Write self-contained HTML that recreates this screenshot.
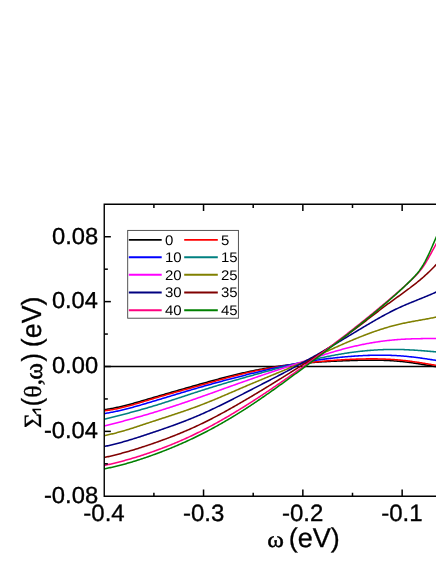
<!DOCTYPE html>
<html><head><meta charset="utf-8"><title>chart</title>
<style>html,body{margin:0;padding:0;background:#fff;width:436px;height:564px;overflow:hidden}
body{position:relative;font-family:"Liberation Sans",sans-serif}</style></head>
<body>
<svg width="436" height="564" viewBox="0 0 436 564" text-rendering="geometricPrecision" style="position:absolute;left:0;top:0;will-change:transform">
<rect width="436" height="564" fill="#fff"/>
<clipPath id="c"><rect x="104.25" y="204.3" width="340" height="292.0"/></clipPath>
<g clip-path="url(#c)" fill="none" stroke-width="1.55" stroke-linejoin="round">
<path d="M104.25,366.5 H440" stroke="#000" stroke-width="1.4"/>
<path d="M104.2,409.73 L105.2,409.59 L106.2,409.44 L107.2,409.28 L108.2,409.11 L109.2,408.94 L110.2,408.77 L111.2,408.58 L112.2,408.40 L113.2,408.20 L114.2,408.00 L115.2,407.80 L116.2,407.59 L117.2,407.37 L118.2,407.15 L119.2,406.93 L120.2,406.70 L121.2,406.46 L122.2,406.23 L123.2,405.98 L124.2,405.74 L125.2,405.49 L126.2,405.24 L127.2,404.98 L128.2,404.72 L129.2,404.46 L130.2,404.19 L131.2,403.92 L132.2,403.65 L133.2,403.38 L134.2,403.10 L135.2,402.82 L136.2,402.54 L137.2,402.26 L138.2,401.97 L139.2,401.69 L140.2,401.40 L141.2,401.11 L142.2,400.82 L143.2,400.53 L144.2,400.24 L145.2,399.94 L146.2,399.65 L147.2,399.36 L148.2,399.06 L149.2,398.77 L150.2,398.48 L151.2,398.18 L152.2,397.89 L153.2,397.60 L154.2,397.30 L155.2,397.01 L156.2,396.72 L157.2,396.43 L158.2,396.13 L159.2,395.84 L160.2,395.55 L161.2,395.26 L162.2,394.97 L163.2,394.68 L164.2,394.39 L165.2,394.10 L166.2,393.81 L167.2,393.52 L168.2,393.23 L169.2,392.94 L170.2,392.65 L171.2,392.36 L172.2,392.07 L173.2,391.78 L174.2,391.49 L175.2,391.20 L176.2,390.92 L177.2,390.63 L178.2,390.34 L179.2,390.05 L180.2,389.77 L181.2,389.48 L182.2,389.20 L183.2,388.91 L184.2,388.62 L185.2,388.34 L186.2,388.05 L187.2,387.77 L188.2,387.48 L189.2,387.20 L190.2,386.91 L191.2,386.63 L192.2,386.35 L193.2,386.06 L194.2,385.78 L195.2,385.50 L196.2,385.22 L197.2,384.93 L198.2,384.65 L199.2,384.37 L200.2,384.09 L201.2,383.81 L202.2,383.53 L203.2,383.25 L204.2,382.97 L205.2,382.69 L206.2,382.41 L207.2,382.13 L208.2,381.86 L209.2,381.58 L210.2,381.30 L211.2,381.03 L212.2,380.75 L213.2,380.48 L214.2,380.21 L215.2,379.94 L216.2,379.66 L217.2,379.39 L218.2,379.13 L219.2,378.86 L220.2,378.59 L221.2,378.33 L222.2,378.06 L223.2,377.80 L224.2,377.54 L225.2,377.28 L226.2,377.02 L227.2,376.76 L228.2,376.50 L229.2,376.25 L230.2,376.00 L231.2,375.74 L232.2,375.49 L233.2,375.25 L234.2,375.00 L235.2,374.76 L236.2,374.51 L237.2,374.27 L238.2,374.03 L239.2,373.80 L240.2,373.56 L241.2,373.33 L242.2,373.10 L243.2,372.87 L244.2,372.64 L245.2,372.42 L246.2,372.19 L247.2,371.97 L248.2,371.76 L249.2,371.54 L250.2,371.33 L251.2,371.12 L252.2,370.91 L253.2,370.70 L254.2,370.50 L255.2,370.30 L256.2,370.10 L257.2,369.90 L258.2,369.71 L259.2,369.52 L260.2,369.33 L261.2,369.14 L262.2,368.96 L263.2,368.78 L264.2,368.60 L265.2,368.42 L266.2,368.25 L267.2,368.07 L268.2,367.90 L269.2,367.74 L270.2,367.57 L271.2,367.41 L272.2,367.25 L273.2,367.09 L274.2,366.93 L275.2,366.78 L276.2,366.62 L277.2,366.47 L278.2,366.33 L279.2,366.18 L280.2,366.04 L281.2,365.90 L282.2,365.76 L283.2,365.62 L284.2,365.48 L285.2,365.35 L286.2,365.22 L287.2,365.09 L288.2,364.97 L289.2,364.84 L290.2,364.72 L291.2,364.60 L292.2,364.48 L293.2,364.37 L294.2,364.25 L295.2,364.14 L296.2,364.03 L297.2,363.93 L298.2,363.82 L299.2,363.72 L300.2,363.62 L301.2,363.52 L302.2,363.42 L303.2,363.33 L304.2,363.23 L305.2,363.14 L306.2,363.05 L307.2,362.96 L308.2,362.88 L309.2,362.79 L310.2,362.71 L311.2,362.63 L312.2,362.55 L313.2,362.47 L314.2,362.40 L315.2,362.33 L316.2,362.25 L317.2,362.18 L318.2,362.11 L319.2,362.05 L320.2,361.98 L321.2,361.92 L322.2,361.85 L323.2,361.79 L324.2,361.73 L325.2,361.67 L326.2,361.61 L327.2,361.56 L328.2,361.50 L329.2,361.45 L330.2,361.40 L331.2,361.35 L332.2,361.30 L333.2,361.25 L334.2,361.20 L335.2,361.15 L336.2,361.11 L337.2,361.06 L338.2,361.02 L339.2,360.98 L340.2,360.94 L341.2,360.90 L342.2,360.86 L343.2,360.82 L344.2,360.78 L345.2,360.74 L346.2,360.71 L347.2,360.67 L348.2,360.64 L349.2,360.61 L350.2,360.57 L351.2,360.54 L352.2,360.51 L353.2,360.48 L354.2,360.45 L355.2,360.42 L356.2,360.39 L357.2,360.37 L358.2,360.34 L359.2,360.32 L360.2,360.30 L361.2,360.27 L362.2,360.26 L363.2,360.24 L364.2,360.22 L365.2,360.21 L366.2,360.19 L367.2,360.18 L368.2,360.18 L369.2,360.17 L370.2,360.16 L371.2,360.16 L372.2,360.16 L373.2,360.17 L374.2,360.17 L375.2,360.18 L376.2,360.19 L377.2,360.20 L378.2,360.22 L379.2,360.23 L380.2,360.26 L381.2,360.28 L382.2,360.31 L383.2,360.34 L384.2,360.37 L385.2,360.41 L386.2,360.45 L387.2,360.49 L388.2,360.54 L389.2,360.59 L390.2,360.64 L391.2,360.70 L392.2,360.76 L393.2,360.83 L394.2,360.90 L395.2,360.97 L396.2,361.05 L397.2,361.13 L398.2,361.21 L399.2,361.30 L400.2,361.40 L401.2,361.50 L402.2,361.60 L403.2,361.71 L404.2,361.82 L405.2,361.93 L406.2,362.05 L407.2,362.18 L408.2,362.30 L409.2,362.43 L410.2,362.57 L411.2,362.70 L412.2,362.84 L413.2,362.98 L414.2,363.13 L415.2,363.27 L416.2,363.42 L417.2,363.58 L418.2,363.73 L419.2,363.89 L420.2,364.05 L421.2,364.21 L422.2,364.37 L423.2,364.53 L424.2,364.70 L425.2,364.86 L426.2,365.03 L427.2,365.20 L428.2,365.37 L429.2,365.54 L430.2,365.71 L431.2,365.88 L432.2,366.06 L433.2,366.23 L434.2,366.40 L435.2,366.57 L436.2,366.75 L437.2,366.92 L438.2,367.09 L439.2,367.27" stroke="#000000"/>
<path d="M104.2,410.71 L105.2,410.61 L106.2,410.50 L107.2,410.38 L108.2,410.26 L109.2,410.12 L110.2,409.97 L111.2,409.82 L112.2,409.65 L113.2,409.48 L114.2,409.30 L115.2,409.11 L116.2,408.91 L117.2,408.71 L118.2,408.50 L119.2,408.28 L120.2,408.06 L121.2,407.83 L122.2,407.59 L123.2,407.35 L124.2,407.10 L125.2,406.85 L126.2,406.59 L127.2,406.33 L128.2,406.06 L129.2,405.79 L130.2,405.51 L131.2,405.23 L132.2,404.95 L133.2,404.66 L134.2,404.37 L135.2,404.08 L136.2,403.79 L137.2,403.49 L138.2,403.19 L139.2,402.89 L140.2,402.59 L141.2,402.29 L142.2,401.98 L143.2,401.68 L144.2,401.37 L145.2,401.07 L146.2,400.76 L147.2,400.46 L148.2,400.15 L149.2,399.85 L150.2,399.55 L151.2,399.25 L152.2,398.95 L153.2,398.65 L154.2,398.35 L155.2,398.06 L156.2,397.76 L157.2,397.47 L158.2,397.18 L159.2,396.88 L160.2,396.59 L161.2,396.30 L162.2,396.01 L163.2,395.73 L164.2,395.44 L165.2,395.15 L166.2,394.87 L167.2,394.58 L168.2,394.30 L169.2,394.02 L170.2,393.73 L171.2,393.45 L172.2,393.17 L173.2,392.89 L174.2,392.61 L175.2,392.33 L176.2,392.05 L177.2,391.77 L178.2,391.49 L179.2,391.21 L180.2,390.93 L181.2,390.65 L182.2,390.37 L183.2,390.10 L184.2,389.82 L185.2,389.54 L186.2,389.26 L187.2,388.99 L188.2,388.71 L189.2,388.43 L190.2,388.15 L191.2,387.88 L192.2,387.60 L193.2,387.32 L194.2,387.04 L195.2,386.77 L196.2,386.49 L197.2,386.21 L198.2,385.93 L199.2,385.65 L200.2,385.37 L201.2,385.09 L202.2,384.81 L203.2,384.53 L204.2,384.24 L205.2,383.96 L206.2,383.68 L207.2,383.40 L208.2,383.12 L209.2,382.84 L210.2,382.56 L211.2,382.27 L212.2,381.99 L213.2,381.71 L214.2,381.43 L215.2,381.15 L216.2,380.87 L217.2,380.59 L218.2,380.32 L219.2,380.04 L220.2,379.76 L221.2,379.49 L222.2,379.21 L223.2,378.94 L224.2,378.66 L225.2,378.39 L226.2,378.12 L227.2,377.85 L228.2,377.58 L229.2,377.31 L230.2,377.05 L231.2,376.78 L232.2,376.52 L233.2,376.26 L234.2,376.00 L235.2,375.74 L236.2,375.48 L237.2,375.23 L238.2,374.98 L239.2,374.73 L240.2,374.48 L241.2,374.23 L242.2,373.99 L243.2,373.74 L244.2,373.50 L245.2,373.27 L246.2,373.03 L247.2,372.80 L248.2,372.57 L249.2,372.34 L250.2,372.11 L251.2,371.89 L252.2,371.67 L253.2,371.45 L254.2,371.23 L255.2,371.02 L256.2,370.81 L257.2,370.60 L258.2,370.40 L259.2,370.20 L260.2,369.99 L261.2,369.80 L262.2,369.60 L263.2,369.41 L264.2,369.22 L265.2,369.03 L266.2,368.84 L267.2,368.66 L268.2,368.48 L269.2,368.30 L270.2,368.12 L271.2,367.94 L272.2,367.77 L273.2,367.60 L274.2,367.43 L275.2,367.26 L276.2,367.10 L277.2,366.93 L278.2,366.77 L279.2,366.61 L280.2,366.46 L281.2,366.30 L282.2,366.15 L283.2,365.99 L284.2,365.85 L285.2,365.70 L286.2,365.55 L287.2,365.41 L288.2,365.26 L289.2,365.12 L290.2,364.98 L291.2,364.85 L292.2,364.71 L293.2,364.58 L294.2,364.44 L295.2,364.31 L296.2,364.18 L297.2,364.05 L298.2,363.93 L299.2,363.80 L300.2,363.68 L301.2,363.55 L302.2,363.43 L303.2,363.31 L304.2,363.20 L305.2,363.08 L306.2,362.96 L307.2,362.85 L308.2,362.74 L309.2,362.63 L310.2,362.52 L311.2,362.41 L312.2,362.30 L313.2,362.20 L314.2,362.10 L315.2,361.99 L316.2,361.89 L317.2,361.79 L318.2,361.70 L319.2,361.60 L320.2,361.51 L321.2,361.41 L322.2,361.32 L323.2,361.23 L324.2,361.14 L325.2,361.06 L326.2,360.97 L327.2,360.89 L328.2,360.80 L329.2,360.72 L330.2,360.64 L331.2,360.57 L332.2,360.49 L333.2,360.42 L334.2,360.34 L335.2,360.27 L336.2,360.20 L337.2,360.13 L338.2,360.07 L339.2,360.00 L340.2,359.94 L341.2,359.88 L342.2,359.81 L343.2,359.76 L344.2,359.70 L345.2,359.64 L346.2,359.59 L347.2,359.54 L348.2,359.49 L349.2,359.44 L350.2,359.39 L351.2,359.34 L352.2,359.30 L353.2,359.26 L354.2,359.22 L355.2,359.18 L356.2,359.14 L357.2,359.11 L358.2,359.07 L359.2,359.04 L360.2,359.01 L361.2,358.99 L362.2,358.96 L363.2,358.94 L364.2,358.92 L365.2,358.90 L366.2,358.89 L367.2,358.87 L368.2,358.86 L369.2,358.85 L370.2,358.85 L371.2,358.85 L372.2,358.85 L373.2,358.85 L374.2,358.85 L375.2,358.86 L376.2,358.87 L377.2,358.89 L378.2,358.90 L379.2,358.92 L380.2,358.95 L381.2,358.97 L382.2,359.00 L383.2,359.03 L384.2,359.07 L385.2,359.11 L386.2,359.15 L387.2,359.19 L388.2,359.24 L389.2,359.30 L390.2,359.35 L391.2,359.41 L392.2,359.47 L393.2,359.54 L394.2,359.61 L395.2,359.68 L396.2,359.76 L397.2,359.84 L398.2,359.93 L399.2,360.02 L400.2,360.11 L401.2,360.21 L402.2,360.31 L403.2,360.42 L404.2,360.53 L405.2,360.64 L406.2,360.76 L407.2,360.88 L408.2,361.00 L409.2,361.12 L410.2,361.25 L411.2,361.39 L412.2,361.52 L413.2,361.66 L414.2,361.80 L415.2,361.94 L416.2,362.09 L417.2,362.23 L418.2,362.38 L419.2,362.54 L420.2,362.69 L421.2,362.85 L422.2,363.00 L423.2,363.16 L424.2,363.32 L425.2,363.49 L426.2,363.65 L427.2,363.81 L428.2,363.98 L429.2,364.15 L430.2,364.32 L431.2,364.49 L432.2,364.66 L433.2,364.83 L434.2,365.00 L435.2,365.17 L436.2,365.34 L437.2,365.51 L438.2,365.68 L439.2,365.86" stroke="#ff0000"/>
<path d="M104.2,413.56 L105.2,413.40 L106.2,413.24 L107.2,413.08 L108.2,412.91 L109.2,412.73 L110.2,412.55 L111.2,412.36 L112.2,412.16 L113.2,411.97 L114.2,411.76 L115.2,411.56 L116.2,411.34 L117.2,411.13 L118.2,410.91 L119.2,410.68 L120.2,410.45 L121.2,410.22 L122.2,409.98 L123.2,409.74 L124.2,409.49 L125.2,409.24 L126.2,408.99 L127.2,408.73 L128.2,408.47 L129.2,408.21 L130.2,407.95 L131.2,407.68 L132.2,407.41 L133.2,407.14 L134.2,406.86 L135.2,406.58 L136.2,406.30 L137.2,406.02 L138.2,405.74 L139.2,405.45 L140.2,405.16 L141.2,404.87 L142.2,404.58 L143.2,404.29 L144.2,403.99 L145.2,403.70 L146.2,403.40 L147.2,403.11 L148.2,402.81 L149.2,402.51 L150.2,402.21 L151.2,401.91 L152.2,401.61 L153.2,401.31 L154.2,401.01 L155.2,400.71 L156.2,400.41 L157.2,400.11 L158.2,399.81 L159.2,399.50 L160.2,399.20 L161.2,398.90 L162.2,398.60 L163.2,398.29 L164.2,397.99 L165.2,397.69 L166.2,397.39 L167.2,397.08 L168.2,396.78 L169.2,396.48 L170.2,396.18 L171.2,395.87 L172.2,395.57 L173.2,395.27 L174.2,394.97 L175.2,394.66 L176.2,394.36 L177.2,394.06 L178.2,393.76 L179.2,393.46 L180.2,393.16 L181.2,392.86 L182.2,392.56 L183.2,392.26 L184.2,391.96 L185.2,391.66 L186.2,391.36 L187.2,391.07 L188.2,390.77 L189.2,390.47 L190.2,390.18 L191.2,389.88 L192.2,389.59 L193.2,389.29 L194.2,389.00 L195.2,388.71 L196.2,388.42 L197.2,388.12 L198.2,387.83 L199.2,387.55 L200.2,387.26 L201.2,386.97 L202.2,386.68 L203.2,386.40 L204.2,386.11 L205.2,385.83 L206.2,385.55 L207.2,385.26 L208.2,384.98 L209.2,384.70 L210.2,384.42 L211.2,384.14 L212.2,383.87 L213.2,383.59 L214.2,383.31 L215.2,383.04 L216.2,382.76 L217.2,382.49 L218.2,382.21 L219.2,381.94 L220.2,381.67 L221.2,381.40 L222.2,381.13 L223.2,380.86 L224.2,380.59 L225.2,380.33 L226.2,380.06 L227.2,379.79 L228.2,379.53 L229.2,379.26 L230.2,379.00 L231.2,378.74 L232.2,378.47 L233.2,378.21 L234.2,377.95 L235.2,377.69 L236.2,377.43 L237.2,377.17 L238.2,376.91 L239.2,376.66 L240.2,376.40 L241.2,376.14 L242.2,375.89 L243.2,375.63 L244.2,375.38 L245.2,375.13 L246.2,374.87 L247.2,374.62 L248.2,374.37 L249.2,374.12 L250.2,373.87 L251.2,373.62 L252.2,373.37 L253.2,373.13 L254.2,372.88 L255.2,372.63 L256.2,372.39 L257.2,372.14 L258.2,371.90 L259.2,371.65 L260.2,371.41 L261.2,371.17 L262.2,370.93 L263.2,370.69 L264.2,370.45 L265.2,370.22 L266.2,369.98 L267.2,369.75 L268.2,369.51 L269.2,369.28 L270.2,369.05 L271.2,368.82 L272.2,368.59 L273.2,368.36 L274.2,368.14 L275.2,367.91 L276.2,367.69 L277.2,367.47 L278.2,367.25 L279.2,367.03 L280.2,366.81 L281.2,366.59 L282.2,366.38 L283.2,366.17 L284.2,365.96 L285.2,365.75 L286.2,365.54 L287.2,365.33 L288.2,365.13 L289.2,364.93 L290.2,364.73 L291.2,364.53 L292.2,364.33 L293.2,364.14 L294.2,363.94 L295.2,363.75 L296.2,363.56 L297.2,363.38 L298.2,363.19 L299.2,363.01 L300.2,362.83 L301.2,362.65 L302.2,362.47 L303.2,362.30 L304.2,362.13 L305.2,361.96 L306.2,361.79 L307.2,361.62 L308.2,361.46 L309.2,361.30 L310.2,361.14 L311.2,360.98 L312.2,360.83 L313.2,360.67 L314.2,360.52 L315.2,360.37 L316.2,360.23 L317.2,360.08 L318.2,359.94 L319.2,359.80 L320.2,359.66 L321.2,359.52 L322.2,359.39 L323.2,359.25 L324.2,359.12 L325.2,359.00 L326.2,358.87 L327.2,358.75 L328.2,358.62 L329.2,358.50 L330.2,358.38 L331.2,358.27 L332.2,358.15 L333.2,358.04 L334.2,357.93 L335.2,357.82 L336.2,357.72 L337.2,357.61 L338.2,357.51 L339.2,357.41 L340.2,357.31 L341.2,357.22 L342.2,357.12 L343.2,357.03 L344.2,356.94 L345.2,356.85 L346.2,356.76 L347.2,356.68 L348.2,356.60 L349.2,356.52 L350.2,356.44 L351.2,356.36 L352.2,356.28 L353.2,356.21 L354.2,356.14 L355.2,356.07 L356.2,356.01 L357.2,355.94 L358.2,355.88 L359.2,355.82 L360.2,355.76 L361.2,355.71 L362.2,355.65 L363.2,355.60 L364.2,355.56 L365.2,355.51 L366.2,355.47 L367.2,355.43 L368.2,355.39 L369.2,355.36 L370.2,355.32 L371.2,355.30 L372.2,355.27 L373.2,355.25 L374.2,355.22 L375.2,355.21 L376.2,355.19 L377.2,355.18 L378.2,355.17 L379.2,355.17 L380.2,355.17 L381.2,355.17 L382.2,355.17 L383.2,355.18 L384.2,355.19 L385.2,355.20 L386.2,355.22 L387.2,355.24 L388.2,355.27 L389.2,355.29 L390.2,355.33 L391.2,355.36 L392.2,355.40 L393.2,355.44 L394.2,355.49 L395.2,355.54 L396.2,355.59 L397.2,355.65 L398.2,355.71 L399.2,355.78 L400.2,355.85 L401.2,355.92 L402.2,356.00 L403.2,356.08 L404.2,356.17 L405.2,356.26 L406.2,356.35 L407.2,356.45 L408.2,356.55 L409.2,356.65 L410.2,356.76 L411.2,356.87 L412.2,356.98 L413.2,357.10 L414.2,357.22 L415.2,357.34 L416.2,357.46 L417.2,357.59 L418.2,357.72 L419.2,357.85 L420.2,357.99 L421.2,358.13 L422.2,358.27 L423.2,358.41 L424.2,358.55 L425.2,358.70 L426.2,358.85 L427.2,359.00 L428.2,359.15 L429.2,359.31 L430.2,359.46 L431.2,359.62 L432.2,359.78 L433.2,359.94 L434.2,360.10 L435.2,360.27 L436.2,360.43 L437.2,360.60 L438.2,360.76 L439.2,360.93" stroke="#0000ff"/>
<path d="M104.2,419.20 L105.2,418.95 L106.2,418.71 L107.2,418.46 L108.2,418.21 L109.2,417.97 L110.2,417.72 L111.2,417.47 L112.2,417.22 L113.2,416.97 L114.2,416.73 L115.2,416.47 L116.2,416.22 L117.2,415.97 L118.2,415.72 L119.2,415.47 L120.2,415.21 L121.2,414.96 L122.2,414.70 L123.2,414.44 L124.2,414.19 L125.2,413.93 L126.2,413.67 L127.2,413.41 L128.2,413.14 L129.2,412.88 L130.2,412.62 L131.2,412.35 L132.2,412.08 L133.2,411.82 L134.2,411.55 L135.2,411.27 L136.2,411.00 L137.2,410.73 L138.2,410.45 L139.2,410.18 L140.2,409.90 L141.2,409.62 L142.2,409.33 L143.2,409.05 L144.2,408.77 L145.2,408.48 L146.2,408.19 L147.2,407.90 L148.2,407.61 L149.2,407.31 L150.2,407.01 L151.2,406.72 L152.2,406.42 L153.2,406.11 L154.2,405.81 L155.2,405.50 L156.2,405.20 L157.2,404.89 L158.2,404.58 L159.2,404.26 L160.2,403.95 L161.2,403.64 L162.2,403.32 L163.2,403.00 L164.2,402.68 L165.2,402.36 L166.2,402.04 L167.2,401.72 L168.2,401.40 L169.2,401.08 L170.2,400.75 L171.2,400.43 L172.2,400.10 L173.2,399.77 L174.2,399.45 L175.2,399.12 L176.2,398.79 L177.2,398.46 L178.2,398.13 L179.2,397.80 L180.2,397.48 L181.2,397.15 L182.2,396.82 L183.2,396.49 L184.2,396.16 L185.2,395.83 L186.2,395.50 L187.2,395.17 L188.2,394.84 L189.2,394.51 L190.2,394.18 L191.2,393.86 L192.2,393.53 L193.2,393.20 L194.2,392.88 L195.2,392.55 L196.2,392.23 L197.2,391.90 L198.2,391.58 L199.2,391.26 L200.2,390.94 L201.2,390.62 L202.2,390.30 L203.2,389.98 L204.2,389.66 L205.2,389.35 L206.2,389.03 L207.2,388.72 L208.2,388.41 L209.2,388.10 L210.2,387.78 L211.2,387.47 L212.2,387.16 L213.2,386.86 L214.2,386.55 L215.2,386.24 L216.2,385.94 L217.2,385.63 L218.2,385.33 L219.2,385.02 L220.2,384.72 L221.2,384.42 L222.2,384.12 L223.2,383.82 L224.2,383.52 L225.2,383.22 L226.2,382.92 L227.2,382.63 L228.2,382.33 L229.2,382.04 L230.2,381.74 L231.2,381.45 L232.2,381.15 L233.2,380.86 L234.2,380.57 L235.2,380.28 L236.2,379.99 L237.2,379.70 L238.2,379.41 L239.2,379.12 L240.2,378.83 L241.2,378.54 L242.2,378.25 L243.2,377.97 L244.2,377.68 L245.2,377.39 L246.2,377.11 L247.2,376.82 L248.2,376.54 L249.2,376.26 L250.2,375.97 L251.2,375.69 L252.2,375.41 L253.2,375.13 L254.2,374.85 L255.2,374.56 L256.2,374.28 L257.2,374.00 L258.2,373.73 L259.2,373.45 L260.2,373.17 L261.2,372.89 L262.2,372.61 L263.2,372.34 L264.2,372.06 L265.2,371.79 L266.2,371.51 L267.2,371.24 L268.2,370.97 L269.2,370.69 L270.2,370.42 L271.2,370.15 L272.2,369.88 L273.2,369.61 L274.2,369.34 L275.2,369.07 L276.2,368.81 L277.2,368.54 L278.2,368.27 L279.2,368.01 L280.2,367.75 L281.2,367.48 L282.2,367.22 L283.2,366.96 L284.2,366.70 L285.2,366.44 L286.2,366.18 L287.2,365.92 L288.2,365.66 L289.2,365.41 L290.2,365.15 L291.2,364.90 L292.2,364.65 L293.2,364.39 L294.2,364.14 L295.2,363.89 L296.2,363.64 L297.2,363.39 L298.2,363.15 L299.2,362.90 L300.2,362.66 L301.2,362.41 L302.2,362.17 L303.2,361.93 L304.2,361.69 L305.2,361.45 L306.2,361.21 L307.2,360.97 L308.2,360.74 L309.2,360.50 L310.2,360.27 L311.2,360.04 L312.2,359.81 L313.2,359.58 L314.2,359.36 L315.2,359.13 L316.2,358.91 L317.2,358.69 L318.2,358.47 L319.2,358.25 L320.2,358.03 L321.2,357.82 L322.2,357.61 L323.2,357.40 L324.2,357.19 L325.2,356.98 L326.2,356.78 L327.2,356.58 L328.2,356.38 L329.2,356.18 L330.2,355.98 L331.2,355.79 L332.2,355.60 L333.2,355.41 L334.2,355.22 L335.2,355.04 L336.2,354.86 L337.2,354.68 L338.2,354.50 L339.2,354.33 L340.2,354.16 L341.2,353.99 L342.2,353.82 L343.2,353.66 L344.2,353.50 L345.2,353.34 L346.2,353.19 L347.2,353.03 L348.2,352.88 L349.2,352.74 L350.2,352.59 L351.2,352.45 L352.2,352.32 L353.2,352.18 L354.2,352.05 L355.2,351.92 L356.2,351.80 L357.2,351.68 L358.2,351.56 L359.2,351.44 L360.2,351.33 L361.2,351.22 L362.2,351.12 L363.2,351.01 L364.2,350.91 L365.2,350.82 L366.2,350.72 L367.2,350.63 L368.2,350.55 L369.2,350.46 L370.2,350.38 L371.2,350.30 L372.2,350.23 L373.2,350.16 L374.2,350.09 L375.2,350.03 L376.2,349.97 L377.2,349.91 L378.2,349.85 L379.2,349.80 L380.2,349.75 L381.2,349.71 L382.2,349.67 L383.2,349.63 L384.2,349.60 L385.2,349.57 L386.2,349.54 L387.2,349.51 L388.2,349.49 L389.2,349.48 L390.2,349.46 L391.2,349.45 L392.2,349.45 L393.2,349.44 L394.2,349.44 L395.2,349.45 L396.2,349.45 L397.2,349.46 L398.2,349.48 L399.2,349.50 L400.2,349.52 L401.2,349.54 L402.2,349.57 L403.2,349.60 L404.2,349.64 L405.2,349.67 L406.2,349.71 L407.2,349.76 L408.2,349.81 L409.2,349.86 L410.2,349.91 L411.2,349.96 L412.2,350.02 L413.2,350.08 L414.2,350.14 L415.2,350.21 L416.2,350.27 L417.2,350.34 L418.2,350.41 L419.2,350.49 L420.2,350.56 L421.2,350.64 L422.2,350.71 L423.2,350.79 L424.2,350.87 L425.2,350.95 L426.2,351.04 L427.2,351.12 L428.2,351.21 L429.2,351.29 L430.2,351.38 L431.2,351.47 L432.2,351.55 L433.2,351.64 L434.2,351.73 L435.2,351.82 L436.2,351.91 L437.2,352.00 L438.2,352.09 L439.2,352.18" stroke="#008080"/>
<path d="M104.2,426.10 L105.2,425.84 L106.2,425.58 L107.2,425.32 L108.2,425.06 L109.2,424.80 L110.2,424.55 L111.2,424.29 L112.2,424.03 L113.2,423.76 L114.2,423.50 L115.2,423.24 L116.2,422.98 L117.2,422.72 L118.2,422.45 L119.2,422.19 L120.2,421.93 L121.2,421.66 L122.2,421.39 L123.2,421.13 L124.2,420.86 L125.2,420.59 L126.2,420.32 L127.2,420.05 L128.2,419.78 L129.2,419.51 L130.2,419.24 L131.2,418.97 L132.2,418.69 L133.2,418.42 L134.2,418.14 L135.2,417.86 L136.2,417.58 L137.2,417.31 L138.2,417.02 L139.2,416.74 L140.2,416.46 L141.2,416.17 L142.2,415.89 L143.2,415.60 L144.2,415.31 L145.2,415.02 L146.2,414.73 L147.2,414.44 L148.2,414.15 L149.2,413.85 L150.2,413.55 L151.2,413.26 L152.2,412.96 L153.2,412.66 L154.2,412.35 L155.2,412.05 L156.2,411.74 L157.2,411.44 L158.2,411.13 L159.2,410.82 L160.2,410.51 L161.2,410.19 L162.2,409.88 L163.2,409.57 L164.2,409.25 L165.2,408.93 L166.2,408.61 L167.2,408.29 L168.2,407.97 L169.2,407.65 L170.2,407.32 L171.2,407.00 L172.2,406.67 L173.2,406.35 L174.2,406.02 L175.2,405.69 L176.2,405.36 L177.2,405.03 L178.2,404.70 L179.2,404.36 L180.2,404.03 L181.2,403.69 L182.2,403.35 L183.2,403.02 L184.2,402.68 L185.2,402.34 L186.2,402.00 L187.2,401.66 L188.2,401.32 L189.2,400.97 L190.2,400.63 L191.2,400.29 L192.2,399.94 L193.2,399.59 L194.2,399.25 L195.2,398.90 L196.2,398.55 L197.2,398.20 L198.2,397.85 L199.2,397.50 L200.2,397.15 L201.2,396.80 L202.2,396.45 L203.2,396.09 L204.2,395.74 L205.2,395.39 L206.2,395.03 L207.2,394.68 L208.2,394.32 L209.2,393.97 L210.2,393.61 L211.2,393.25 L212.2,392.90 L213.2,392.54 L214.2,392.18 L215.2,391.82 L216.2,391.47 L217.2,391.11 L218.2,390.75 L219.2,390.39 L220.2,390.03 L221.2,389.67 L222.2,389.31 L223.2,388.96 L224.2,388.60 L225.2,388.24 L226.2,387.88 L227.2,387.52 L228.2,387.16 L229.2,386.80 L230.2,386.45 L231.2,386.09 L232.2,385.73 L233.2,385.37 L234.2,385.02 L235.2,384.66 L236.2,384.30 L237.2,383.95 L238.2,383.59 L239.2,383.23 L240.2,382.88 L241.2,382.52 L242.2,382.17 L243.2,381.82 L244.2,381.46 L245.2,381.11 L246.2,380.76 L247.2,380.41 L248.2,380.06 L249.2,379.71 L250.2,379.36 L251.2,379.01 L252.2,378.66 L253.2,378.32 L254.2,377.97 L255.2,377.63 L256.2,377.28 L257.2,376.94 L258.2,376.59 L259.2,376.25 L260.2,375.91 L261.2,375.57 L262.2,375.23 L263.2,374.89 L264.2,374.55 L265.2,374.21 L266.2,373.87 L267.2,373.53 L268.2,373.19 L269.2,372.85 L270.2,372.51 L271.2,372.18 L272.2,371.84 L273.2,371.51 L274.2,371.17 L275.2,370.83 L276.2,370.50 L277.2,370.16 L278.2,369.83 L279.2,369.50 L280.2,369.16 L281.2,368.83 L282.2,368.49 L283.2,368.16 L284.2,367.83 L285.2,367.50 L286.2,367.16 L287.2,366.83 L288.2,366.50 L289.2,366.16 L290.2,365.83 L291.2,365.50 L292.2,365.17 L293.2,364.84 L294.2,364.50 L295.2,364.17 L296.2,363.84 L297.2,363.51 L298.2,363.18 L299.2,362.84 L300.2,362.51 L301.2,362.18 L302.2,361.85 L303.2,361.51 L304.2,361.18 L305.2,360.85 L306.2,360.52 L307.2,360.19 L308.2,359.86 L309.2,359.52 L310.2,359.20 L311.2,358.87 L312.2,358.54 L313.2,358.21 L314.2,357.88 L315.2,357.56 L316.2,357.23 L317.2,356.91 L318.2,356.59 L319.2,356.26 L320.2,355.94 L321.2,355.62 L322.2,355.31 L323.2,354.99 L324.2,354.68 L325.2,354.36 L326.2,354.05 L327.2,353.74 L328.2,353.44 L329.2,353.13 L330.2,352.83 L331.2,352.53 L332.2,352.23 L333.2,351.93 L334.2,351.63 L335.2,351.34 L336.2,351.05 L337.2,350.76 L338.2,350.48 L339.2,350.20 L340.2,349.92 L341.2,349.64 L342.2,349.37 L343.2,349.10 L344.2,348.83 L345.2,348.56 L346.2,348.30 L347.2,348.04 L348.2,347.79 L349.2,347.54 L350.2,347.29 L351.2,347.04 L352.2,346.80 L353.2,346.56 L354.2,346.33 L355.2,346.10 L356.2,345.87 L357.2,345.64 L358.2,345.42 L359.2,345.21 L360.2,344.99 L361.2,344.78 L362.2,344.58 L363.2,344.37 L364.2,344.17 L365.2,343.98 L366.2,343.79 L367.2,343.60 L368.2,343.41 L369.2,343.23 L370.2,343.05 L371.2,342.88 L372.2,342.71 L373.2,342.54 L374.2,342.38 L375.2,342.22 L376.2,342.06 L377.2,341.91 L378.2,341.76 L379.2,341.61 L380.2,341.47 L381.2,341.33 L382.2,341.20 L383.2,341.07 L384.2,340.94 L385.2,340.82 L386.2,340.70 L387.2,340.58 L388.2,340.47 L389.2,340.36 L390.2,340.25 L391.2,340.15 L392.2,340.05 L393.2,339.96 L394.2,339.87 L395.2,339.78 L396.2,339.70 L397.2,339.62 L398.2,339.54 L399.2,339.47 L400.2,339.40 L401.2,339.34 L402.2,339.28 L403.2,339.22 L404.2,339.17 L405.2,339.12 L406.2,339.07 L407.2,339.02 L408.2,338.98 L409.2,338.94 L410.2,338.90 L411.2,338.87 L412.2,338.84 L413.2,338.81 L414.2,338.78 L415.2,338.75 L416.2,338.73 L417.2,338.71 L418.2,338.68 L419.2,338.66 L420.2,338.65 L421.2,338.63 L422.2,338.61 L423.2,338.60 L424.2,338.58 L425.2,338.57 L426.2,338.55 L427.2,338.54 L428.2,338.53 L429.2,338.51 L430.2,338.50 L431.2,338.49 L432.2,338.47 L433.2,338.46 L434.2,338.44 L435.2,338.43 L436.2,338.41 L437.2,338.39 L438.2,338.38 L439.2,338.36" stroke="#ff00ff"/>
<path d="M104.2,435.58 L105.2,435.39 L106.2,435.19 L107.2,434.99 L108.2,434.78 L109.2,434.57 L110.2,434.34 L111.2,434.11 L112.2,433.88 L113.2,433.64 L114.2,433.39 L115.2,433.14 L116.2,432.89 L117.2,432.62 L118.2,432.36 L119.2,432.09 L120.2,431.81 L121.2,431.53 L122.2,431.24 L123.2,430.96 L124.2,430.66 L125.2,430.37 L126.2,430.07 L127.2,429.76 L128.2,429.46 L129.2,429.15 L130.2,428.84 L131.2,428.52 L132.2,428.21 L133.2,427.89 L134.2,427.56 L135.2,427.24 L136.2,426.92 L137.2,426.59 L138.2,426.26 L139.2,425.93 L140.2,425.60 L141.2,425.27 L142.2,424.94 L143.2,424.61 L144.2,424.28 L145.2,423.94 L146.2,423.61 L147.2,423.28 L148.2,422.95 L149.2,422.62 L150.2,422.28 L151.2,421.95 L152.2,421.63 L153.2,421.30 L154.2,420.97 L155.2,420.64 L156.2,420.32 L157.2,419.99 L158.2,419.66 L159.2,419.34 L160.2,419.01 L161.2,418.69 L162.2,418.36 L163.2,418.04 L164.2,417.71 L165.2,417.39 L166.2,417.06 L167.2,416.74 L168.2,416.41 L169.2,416.08 L170.2,415.75 L171.2,415.43 L172.2,415.10 L173.2,414.77 L174.2,414.44 L175.2,414.10 L176.2,413.77 L177.2,413.44 L178.2,413.10 L179.2,412.77 L180.2,412.43 L181.2,412.09 L182.2,411.75 L183.2,411.41 L184.2,411.06 L185.2,410.72 L186.2,410.37 L187.2,410.02 L188.2,409.67 L189.2,409.32 L190.2,408.96 L191.2,408.60 L192.2,408.25 L193.2,407.88 L194.2,407.52 L195.2,407.15 L196.2,406.78 L197.2,406.41 L198.2,406.04 L199.2,405.66 L200.2,405.28 L201.2,404.90 L202.2,404.51 L203.2,404.12 L204.2,403.73 L205.2,403.34 L206.2,402.94 L207.2,402.54 L208.2,402.14 L209.2,401.74 L210.2,401.33 L211.2,400.92 L212.2,400.51 L213.2,400.10 L214.2,399.69 L215.2,399.27 L216.2,398.86 L217.2,398.44 L218.2,398.02 L219.2,397.60 L220.2,397.18 L221.2,396.75 L222.2,396.33 L223.2,395.90 L224.2,395.47 L225.2,395.05 L226.2,394.62 L227.2,394.19 L228.2,393.76 L229.2,393.33 L230.2,392.90 L231.2,392.46 L232.2,392.03 L233.2,391.60 L234.2,391.17 L235.2,390.73 L236.2,390.30 L237.2,389.87 L238.2,389.44 L239.2,389.00 L240.2,388.57 L241.2,388.14 L242.2,387.71 L243.2,387.28 L244.2,386.85 L245.2,386.42 L246.2,385.99 L247.2,385.56 L248.2,385.14 L249.2,384.71 L250.2,384.29 L251.2,383.86 L252.2,383.44 L253.2,383.02 L254.2,382.60 L255.2,382.18 L256.2,381.76 L257.2,381.35 L258.2,380.93 L259.2,380.51 L260.2,380.10 L261.2,379.68 L262.2,379.27 L263.2,378.86 L264.2,378.44 L265.2,378.03 L266.2,377.62 L267.2,377.21 L268.2,376.79 L269.2,376.38 L270.2,375.97 L271.2,375.56 L272.2,375.15 L273.2,374.73 L274.2,374.32 L275.2,373.91 L276.2,373.50 L277.2,373.08 L278.2,372.67 L279.2,372.26 L280.2,371.84 L281.2,371.43 L282.2,371.01 L283.2,370.59 L284.2,370.18 L285.2,369.76 L286.2,369.34 L287.2,368.92 L288.2,368.50 L289.2,368.08 L290.2,367.66 L291.2,367.23 L292.2,366.81 L293.2,366.38 L294.2,365.95 L295.2,365.53 L296.2,365.10 L297.2,364.66 L298.2,364.23 L299.2,363.80 L300.2,363.36 L301.2,362.92 L302.2,362.48 L303.2,362.04 L304.2,361.60 L305.2,361.15 L306.2,360.71 L307.2,360.26 L308.2,359.81 L309.2,359.36 L310.2,358.91 L311.2,358.46 L312.2,358.01 L313.2,357.56 L314.2,357.11 L315.2,356.65 L316.2,356.20 L317.2,355.74 L318.2,355.29 L319.2,354.83 L320.2,354.38 L321.2,353.92 L322.2,353.47 L323.2,353.01 L324.2,352.56 L325.2,352.10 L326.2,351.65 L327.2,351.19 L328.2,350.74 L329.2,350.28 L330.2,349.83 L331.2,349.38 L332.2,348.93 L333.2,348.47 L334.2,348.02 L335.2,347.58 L336.2,347.13 L337.2,346.68 L338.2,346.24 L339.2,345.79 L340.2,345.35 L341.2,344.91 L342.2,344.47 L343.2,344.03 L344.2,343.59 L345.2,343.16 L346.2,342.72 L347.2,342.29 L348.2,341.86 L349.2,341.44 L350.2,341.01 L351.2,340.59 L352.2,340.17 L353.2,339.75 L354.2,339.34 L355.2,338.92 L356.2,338.51 L357.2,338.11 L358.2,337.70 L359.2,337.30 L360.2,336.90 L361.2,336.50 L362.2,336.11 L363.2,335.72 L364.2,335.33 L365.2,334.95 L366.2,334.57 L367.2,334.19 L368.2,333.81 L369.2,333.44 L370.2,333.07 L371.2,332.71 L372.2,332.35 L373.2,331.99 L374.2,331.64 L375.2,331.29 L376.2,330.95 L377.2,330.61 L378.2,330.27 L379.2,329.93 L380.2,329.61 L381.2,329.28 L382.2,328.96 L383.2,328.64 L384.2,328.33 L385.2,328.03 L386.2,327.72 L387.2,327.43 L388.2,327.13 L389.2,326.84 L390.2,326.56 L391.2,326.28 L392.2,326.01 L393.2,325.74 L394.2,325.47 L395.2,325.22 L396.2,324.96 L397.2,324.71 L398.2,324.47 L399.2,324.23 L400.2,324.00 L401.2,323.78 L402.2,323.55 L403.2,323.34 L404.2,323.13 L405.2,322.92 L406.2,322.72 L407.2,322.52 L408.2,322.32 L409.2,322.13 L410.2,321.94 L411.2,321.75 L412.2,321.56 L413.2,321.38 L414.2,321.20 L415.2,321.02 L416.2,320.84 L417.2,320.66 L418.2,320.49 L419.2,320.31 L420.2,320.13 L421.2,319.95 L422.2,319.78 L423.2,319.60 L424.2,319.42 L425.2,319.24 L426.2,319.06 L427.2,318.87 L428.2,318.68 L429.2,318.50 L430.2,318.30 L431.2,318.11 L432.2,317.91 L433.2,317.71 L434.2,317.50 L435.2,317.29 L436.2,317.08 L437.2,316.86 L438.2,316.63 L439.2,316.40" stroke="#808000"/>
<path d="M104.2,446.49 L105.2,446.29 L106.2,446.08 L107.2,445.87 L108.2,445.65 L109.2,445.43 L110.2,445.21 L111.2,444.97 L112.2,444.74 L113.2,444.50 L114.2,444.25 L115.2,444.00 L116.2,443.75 L117.2,443.49 L118.2,443.23 L119.2,442.96 L120.2,442.69 L121.2,442.42 L122.2,442.14 L123.2,441.86 L124.2,441.57 L125.2,441.29 L126.2,441.00 L127.2,440.70 L128.2,440.41 L129.2,440.11 L130.2,439.80 L131.2,439.50 L132.2,439.19 L133.2,438.88 L134.2,438.57 L135.2,438.25 L136.2,437.94 L137.2,437.62 L138.2,437.30 L139.2,436.98 L140.2,436.65 L141.2,436.33 L142.2,436.00 L143.2,435.67 L144.2,435.34 L145.2,435.01 L146.2,434.68 L147.2,434.35 L148.2,434.02 L149.2,433.68 L150.2,433.35 L151.2,433.01 L152.2,432.68 L153.2,432.34 L154.2,432.01 L155.2,431.67 L156.2,431.33 L157.2,430.99 L158.2,430.65 L159.2,430.31 L160.2,429.97 L161.2,429.63 L162.2,429.28 L163.2,428.94 L164.2,428.59 L165.2,428.24 L166.2,427.89 L167.2,427.54 L168.2,427.19 L169.2,426.84 L170.2,426.48 L171.2,426.12 L172.2,425.76 L173.2,425.40 L174.2,425.04 L175.2,424.67 L176.2,424.31 L177.2,423.94 L178.2,423.57 L179.2,423.20 L180.2,422.82 L181.2,422.44 L182.2,422.06 L183.2,421.68 L184.2,421.29 L185.2,420.91 L186.2,420.52 L187.2,420.12 L188.2,419.73 L189.2,419.33 L190.2,418.93 L191.2,418.52 L192.2,418.12 L193.2,417.71 L194.2,417.29 L195.2,416.88 L196.2,416.46 L197.2,416.03 L198.2,415.61 L199.2,415.18 L200.2,414.74 L201.2,414.31 L202.2,413.87 L203.2,413.42 L204.2,412.98 L205.2,412.53 L206.2,412.07 L207.2,411.62 L208.2,411.16 L209.2,410.70 L210.2,410.23 L211.2,409.76 L212.2,409.29 L213.2,408.82 L214.2,408.35 L215.2,407.87 L216.2,407.39 L217.2,406.91 L218.2,406.42 L219.2,405.93 L220.2,405.45 L221.2,404.95 L222.2,404.46 L223.2,403.97 L224.2,403.47 L225.2,402.97 L226.2,402.47 L227.2,401.97 L228.2,401.47 L229.2,400.97 L230.2,400.46 L231.2,399.96 L232.2,399.45 L233.2,398.94 L234.2,398.43 L235.2,397.92 L236.2,397.41 L237.2,396.90 L238.2,396.39 L239.2,395.88 L240.2,395.36 L241.2,394.85 L242.2,394.33 L243.2,393.82 L244.2,393.30 L245.2,392.79 L246.2,392.28 L247.2,391.76 L248.2,391.25 L249.2,390.73 L250.2,390.22 L251.2,389.70 L252.2,389.19 L253.2,388.68 L254.2,388.16 L255.2,387.65 L256.2,387.14 L257.2,386.62 L258.2,386.11 L259.2,385.60 L260.2,385.09 L261.2,384.57 L262.2,384.06 L263.2,383.55 L264.2,383.03 L265.2,382.52 L266.2,382.01 L267.2,381.49 L268.2,380.98 L269.2,380.46 L270.2,379.95 L271.2,379.43 L272.2,378.91 L273.2,378.40 L274.2,377.88 L275.2,377.36 L276.2,376.84 L277.2,376.32 L278.2,375.80 L279.2,375.28 L280.2,374.76 L281.2,374.24 L282.2,373.71 L283.2,373.19 L284.2,372.66 L285.2,372.13 L286.2,371.61 L287.2,371.08 L288.2,370.55 L289.2,370.02 L290.2,369.48 L291.2,368.95 L292.2,368.42 L293.2,367.88 L294.2,367.34 L295.2,366.80 L296.2,366.26 L297.2,365.72 L298.2,365.18 L299.2,364.63 L300.2,364.08 L301.2,363.54 L302.2,362.99 L303.2,362.43 L304.2,361.88 L305.2,361.33 L306.2,360.77 L307.2,360.21 L308.2,359.65 L309.2,359.09 L310.2,358.53 L311.2,357.97 L312.2,357.40 L313.2,356.84 L314.2,356.27 L315.2,355.70 L316.2,355.13 L317.2,354.56 L318.2,353.98 L319.2,353.41 L320.2,352.83 L321.2,352.26 L322.2,351.68 L323.2,351.10 L324.2,350.52 L325.2,349.94 L326.2,349.36 L327.2,348.77 L328.2,348.19 L329.2,347.60 L330.2,347.02 L331.2,346.43 L332.2,345.84 L333.2,345.25 L334.2,344.66 L335.2,344.07 L336.2,343.48 L337.2,342.89 L338.2,342.29 L339.2,341.70 L340.2,341.10 L341.2,340.50 L342.2,339.91 L343.2,339.31 L344.2,338.71 L345.2,338.11 L346.2,337.51 L347.2,336.91 L348.2,336.31 L349.2,335.71 L350.2,335.11 L351.2,334.50 L352.2,333.90 L353.2,333.30 L354.2,332.69 L355.2,332.09 L356.2,331.49 L357.2,330.88 L358.2,330.28 L359.2,329.68 L360.2,329.08 L361.2,328.48 L362.2,327.88 L363.2,327.28 L364.2,326.68 L365.2,326.09 L366.2,325.49 L367.2,324.90 L368.2,324.31 L369.2,323.72 L370.2,323.13 L371.2,322.55 L372.2,321.97 L373.2,321.39 L374.2,320.81 L375.2,320.23 L376.2,319.66 L377.2,319.09 L378.2,318.53 L379.2,317.97 L380.2,317.41 L381.2,316.86 L382.2,316.30 L383.2,315.76 L384.2,315.21 L385.2,314.68 L386.2,314.14 L387.2,313.61 L388.2,313.09 L389.2,312.57 L390.2,312.05 L391.2,311.54 L392.2,311.03 L393.2,310.53 L394.2,310.04 L395.2,309.55 L396.2,309.07 L397.2,308.59 L398.2,308.12 L399.2,307.65 L400.2,307.19 L401.2,306.74 L402.2,306.29 L403.2,305.85 L404.2,305.41 L405.2,304.98 L406.2,304.55 L407.2,304.13 L408.2,303.71 L409.2,303.29 L410.2,302.88 L411.2,302.47 L412.2,302.06 L413.2,301.66 L414.2,301.25 L415.2,300.85 L416.2,300.45 L417.2,300.04 L418.2,299.64 L419.2,299.24 L420.2,298.84 L421.2,298.43 L422.2,298.03 L423.2,297.62 L424.2,297.22 L425.2,296.81 L426.2,296.39 L427.2,295.98 L428.2,295.56 L429.2,295.13 L430.2,294.71 L431.2,294.27 L432.2,293.84 L433.2,293.40 L434.2,292.95 L435.2,292.50 L436.2,292.04 L437.2,291.57 L438.2,291.10 L439.2,290.62" stroke="#000080"/>
<path d="M104.2,457.49 L105.2,457.28 L106.2,457.06 L107.2,456.84 L108.2,456.62 L109.2,456.39 L110.2,456.16 L111.2,455.92 L112.2,455.69 L113.2,455.44 L114.2,455.20 L115.2,454.95 L116.2,454.70 L117.2,454.44 L118.2,454.19 L119.2,453.92 L120.2,453.66 L121.2,453.39 L122.2,453.12 L123.2,452.85 L124.2,452.57 L125.2,452.29 L126.2,452.00 L127.2,451.72 L128.2,451.43 L129.2,451.14 L130.2,450.84 L131.2,450.55 L132.2,450.25 L133.2,449.94 L134.2,449.64 L135.2,449.33 L136.2,449.02 L137.2,448.71 L138.2,448.40 L139.2,448.08 L140.2,447.76 L141.2,447.44 L142.2,447.11 L143.2,446.79 L144.2,446.46 L145.2,446.13 L146.2,445.80 L147.2,445.46 L148.2,445.13 L149.2,444.79 L150.2,444.45 L151.2,444.11 L152.2,443.76 L153.2,443.42 L154.2,443.07 L155.2,442.72 L156.2,442.37 L157.2,442.02 L158.2,441.66 L159.2,441.30 L160.2,440.94 L161.2,440.58 L162.2,440.22 L163.2,439.85 L164.2,439.48 L165.2,439.11 L166.2,438.74 L167.2,438.36 L168.2,437.99 L169.2,437.61 L170.2,437.22 L171.2,436.84 L172.2,436.45 L173.2,436.06 L174.2,435.66 L175.2,435.27 L176.2,434.87 L177.2,434.47 L178.2,434.06 L179.2,433.66 L180.2,433.25 L181.2,432.83 L182.2,432.42 L183.2,432.00 L184.2,431.58 L185.2,431.15 L186.2,430.73 L187.2,430.30 L188.2,429.86 L189.2,429.43 L190.2,428.99 L191.2,428.54 L192.2,428.10 L193.2,427.65 L194.2,427.19 L195.2,426.73 L196.2,426.27 L197.2,425.81 L198.2,425.34 L199.2,424.87 L200.2,424.40 L201.2,423.92 L202.2,423.44 L203.2,422.96 L204.2,422.47 L205.2,421.98 L206.2,421.48 L207.2,420.98 L208.2,420.48 L209.2,419.98 L210.2,419.47 L211.2,418.96 L212.2,418.45 L213.2,417.93 L214.2,417.41 L215.2,416.89 L216.2,416.36 L217.2,415.83 L218.2,415.30 L219.2,414.77 L220.2,414.23 L221.2,413.69 L222.2,413.15 L223.2,412.61 L224.2,412.06 L225.2,411.51 L226.2,410.96 L227.2,410.41 L228.2,409.85 L229.2,409.30 L230.2,408.74 L231.2,408.18 L232.2,407.61 L233.2,407.04 L234.2,406.48 L235.2,405.91 L236.2,405.34 L237.2,404.76 L238.2,404.19 L239.2,403.61 L240.2,403.03 L241.2,402.45 L242.2,401.87 L243.2,401.28 L244.2,400.70 L245.2,400.11 L246.2,399.53 L247.2,398.94 L248.2,398.35 L249.2,397.76 L250.2,397.16 L251.2,396.57 L252.2,395.97 L253.2,395.38 L254.2,394.78 L255.2,394.18 L256.2,393.58 L257.2,392.98 L258.2,392.38 L259.2,391.78 L260.2,391.18 L261.2,390.57 L262.2,389.97 L263.2,389.36 L264.2,388.75 L265.2,388.14 L266.2,387.53 L267.2,386.92 L268.2,386.31 L269.2,385.70 L270.2,385.09 L271.2,384.47 L272.2,383.86 L273.2,383.24 L274.2,382.63 L275.2,382.01 L276.2,381.39 L277.2,380.77 L278.2,380.15 L279.2,379.53 L280.2,378.91 L281.2,378.29 L282.2,377.67 L283.2,377.04 L284.2,376.42 L285.2,375.79 L286.2,375.17 L287.2,374.54 L288.2,373.91 L289.2,373.29 L290.2,372.66 L291.2,372.03 L292.2,371.40 L293.2,370.77 L294.2,370.14 L295.2,369.51 L296.2,368.88 L297.2,368.24 L298.2,367.61 L299.2,366.98 L300.2,366.34 L301.2,365.71 L302.2,365.08 L303.2,364.44 L304.2,363.80 L305.2,363.17 L306.2,362.53 L307.2,361.89 L308.2,361.25 L309.2,360.61 L310.2,359.97 L311.2,359.32 L312.2,358.68 L313.2,358.04 L314.2,357.39 L315.2,356.74 L316.2,356.09 L317.2,355.44 L318.2,354.79 L319.2,354.13 L320.2,353.48 L321.2,352.82 L322.2,352.16 L323.2,351.50 L324.2,350.83 L325.2,350.17 L326.2,349.50 L327.2,348.83 L328.2,348.16 L329.2,347.48 L330.2,346.81 L331.2,346.13 L332.2,345.45 L333.2,344.76 L334.2,344.07 L335.2,343.39 L336.2,342.69 L337.2,342.00 L338.2,341.30 L339.2,340.60 L340.2,339.90 L341.2,339.19 L342.2,338.48 L343.2,337.77 L344.2,337.05 L345.2,336.33 L346.2,335.61 L347.2,334.88 L348.2,334.15 L349.2,333.42 L350.2,332.68 L351.2,331.94 L352.2,331.20 L353.2,330.45 L354.2,329.70 L355.2,328.95 L356.2,328.19 L357.2,327.43 L358.2,326.67 L359.2,325.91 L360.2,325.15 L361.2,324.38 L362.2,323.61 L363.2,322.84 L364.2,322.07 L365.2,321.30 L366.2,320.53 L367.2,319.76 L368.2,318.98 L369.2,318.21 L370.2,317.44 L371.2,316.67 L372.2,315.89 L373.2,315.12 L374.2,314.35 L375.2,313.58 L376.2,312.81 L377.2,312.04 L378.2,311.28 L379.2,310.51 L380.2,309.75 L381.2,308.99 L382.2,308.23 L383.2,307.48 L384.2,306.72 L385.2,305.97 L386.2,305.23 L387.2,304.48 L388.2,303.74 L389.2,303.01 L390.2,302.27 L391.2,301.54 L392.2,300.82 L393.2,300.09 L394.2,299.37 L395.2,298.66 L396.2,297.94 L397.2,297.22 L398.2,296.50 L399.2,295.79 L400.2,295.07 L401.2,294.35 L402.2,293.63 L403.2,292.91 L404.2,292.18 L405.2,291.45 L406.2,290.72 L407.2,289.99 L408.2,289.24 L409.2,288.50 L410.2,287.75 L411.2,286.99 L412.2,286.22 L413.2,285.45 L414.2,284.67 L415.2,283.88 L416.2,283.08 L417.2,282.27 L418.2,281.46 L419.2,280.63 L420.2,279.79 L421.2,278.94 L422.2,278.08 L423.2,277.21 L424.2,276.33 L425.2,275.43 L426.2,274.52 L427.2,273.59 L428.2,272.66 L429.2,271.70 L430.2,270.73 L431.2,269.75 L432.2,268.75 L433.2,267.73 L434.2,266.70 L435.2,265.65 L436.2,264.58 L437.2,263.49 L438.2,262.39 L439.2,261.26" stroke="#800000"/>
<path d="M104.2,465.46 L105.2,465.24 L106.2,465.03 L107.2,464.81 L108.2,464.59 L109.2,464.37 L110.2,464.14 L111.2,463.91 L112.2,463.68 L113.2,463.44 L114.2,463.20 L115.2,462.96 L116.2,462.71 L117.2,462.46 L118.2,462.21 L119.2,461.95 L120.2,461.69 L121.2,461.43 L122.2,461.17 L123.2,460.90 L124.2,460.63 L125.2,460.36 L126.2,460.08 L127.2,459.80 L128.2,459.52 L129.2,459.23 L130.2,458.94 L131.2,458.65 L132.2,458.36 L133.2,458.06 L134.2,457.76 L135.2,457.46 L136.2,457.15 L137.2,456.84 L138.2,456.53 L139.2,456.22 L140.2,455.90 L141.2,455.58 L142.2,455.26 L143.2,454.93 L144.2,454.60 L145.2,454.27 L146.2,453.94 L147.2,453.60 L148.2,453.26 L149.2,452.92 L150.2,452.58 L151.2,452.23 L152.2,451.88 L153.2,451.53 L154.2,451.17 L155.2,450.81 L156.2,450.45 L157.2,450.09 L158.2,449.72 L159.2,449.35 L160.2,448.98 L161.2,448.60 L162.2,448.22 L163.2,447.84 L164.2,447.46 L165.2,447.07 L166.2,446.68 L167.2,446.29 L168.2,445.90 L169.2,445.50 L170.2,445.10 L171.2,444.69 L172.2,444.28 L173.2,443.87 L174.2,443.46 L175.2,443.04 L176.2,442.62 L177.2,442.20 L178.2,441.77 L179.2,441.34 L180.2,440.91 L181.2,440.48 L182.2,440.04 L183.2,439.59 L184.2,439.15 L185.2,438.70 L186.2,438.25 L187.2,437.79 L188.2,437.34 L189.2,436.87 L190.2,436.41 L191.2,435.94 L192.2,435.47 L193.2,434.99 L194.2,434.52 L195.2,434.03 L196.2,433.55 L197.2,433.06 L198.2,432.57 L199.2,432.07 L200.2,431.57 L201.2,431.07 L202.2,430.57 L203.2,430.06 L204.2,429.54 L205.2,429.03 L206.2,428.51 L207.2,427.98 L208.2,427.46 L209.2,426.93 L210.2,426.40 L211.2,425.86 L212.2,425.32 L213.2,424.78 L214.2,424.24 L215.2,423.69 L216.2,423.14 L217.2,422.58 L218.2,422.03 L219.2,421.47 L220.2,420.90 L221.2,420.34 L222.2,419.77 L223.2,419.20 L224.2,418.62 L225.2,418.04 L226.2,417.46 L227.2,416.88 L228.2,416.30 L229.2,415.71 L230.2,415.12 L231.2,414.53 L232.2,413.93 L233.2,413.33 L234.2,412.73 L235.2,412.13 L236.2,411.52 L237.2,410.92 L238.2,410.31 L239.2,409.69 L240.2,409.08 L241.2,408.46 L242.2,407.84 L243.2,407.22 L244.2,406.60 L245.2,405.97 L246.2,405.34 L247.2,404.71 L248.2,404.08 L249.2,403.45 L250.2,402.81 L251.2,402.17 L252.2,401.53 L253.2,400.89 L254.2,400.25 L255.2,399.60 L256.2,398.95 L257.2,398.30 L258.2,397.65 L259.2,397.00 L260.2,396.34 L261.2,395.68 L262.2,395.03 L263.2,394.36 L264.2,393.70 L265.2,393.04 L266.2,392.37 L267.2,391.70 L268.2,391.03 L269.2,390.36 L270.2,389.69 L271.2,389.02 L272.2,388.34 L273.2,387.66 L274.2,386.98 L275.2,386.30 L276.2,385.62 L277.2,384.94 L278.2,384.25 L279.2,383.56 L280.2,382.88 L281.2,382.19 L282.2,381.49 L283.2,380.80 L284.2,380.11 L285.2,379.41 L286.2,378.71 L287.2,378.02 L288.2,377.32 L289.2,376.61 L290.2,375.91 L291.2,375.21 L292.2,374.50 L293.2,373.80 L294.2,373.09 L295.2,372.38 L296.2,371.67 L297.2,370.96 L298.2,370.24 L299.2,369.53 L300.2,368.81 L301.2,368.10 L302.2,367.38 L303.2,366.66 L304.2,365.94 L305.2,365.22 L306.2,364.50 L307.2,363.77 L308.2,363.05 L309.2,362.32 L310.2,361.60 L311.2,360.87 L312.2,360.14 L313.2,359.41 L314.2,358.67 L315.2,357.94 L316.2,357.21 L317.2,356.47 L318.2,355.73 L319.2,354.99 L320.2,354.25 L321.2,353.51 L322.2,352.77 L323.2,352.02 L324.2,351.28 L325.2,350.53 L326.2,349.79 L327.2,349.04 L328.2,348.29 L329.2,347.53 L330.2,346.78 L331.2,346.02 L332.2,345.27 L333.2,344.51 L334.2,343.75 L335.2,342.99 L336.2,342.23 L337.2,341.47 L338.2,340.70 L339.2,339.94 L340.2,339.17 L341.2,338.40 L342.2,337.63 L343.2,336.86 L344.2,336.08 L345.2,335.31 L346.2,334.53 L347.2,333.76 L348.2,332.98 L349.2,332.20 L350.2,331.41 L351.2,330.63 L352.2,329.85 L353.2,329.06 L354.2,328.27 L355.2,327.48 L356.2,326.69 L357.2,325.90 L358.2,325.10 L359.2,324.31 L360.2,323.51 L361.2,322.71 L362.2,321.91 L363.2,321.11 L364.2,320.30 L365.2,319.50 L366.2,318.69 L367.2,317.88 L368.2,317.07 L369.2,316.25 L370.2,315.44 L371.2,314.62 L372.2,313.81 L373.2,312.99 L374.2,312.17 L375.2,311.34 L376.2,310.52 L377.2,309.69 L378.2,308.86 L379.2,308.03 L380.2,307.20 L381.2,306.37 L382.2,305.53 L383.2,304.69 L384.2,303.85 L385.2,303.01 L386.2,302.17 L387.2,301.32 L388.2,300.48 L389.2,299.63 L390.2,298.78 L391.2,297.92 L392.2,297.07 L393.2,296.21 L394.2,295.35 L395.2,294.49 L396.2,293.62 L397.2,292.75 L398.2,291.88 L399.2,291.00 L400.2,290.12 L401.2,289.24 L402.2,288.35 L403.2,287.46 L404.2,286.56 L405.2,285.66 L406.2,284.75 L407.2,283.84 L408.2,282.92 L409.2,281.99 L410.2,281.06 L411.2,280.13 L412.2,279.18 L413.2,278.21 L414.2,277.22 L415.2,276.20 L416.2,275.16 L417.2,274.08 L418.2,272.95 L419.2,271.78 L420.2,270.56 L421.2,269.29 L422.2,267.95 L423.2,266.55 L424.2,265.08 L425.2,263.54 L426.2,261.92 L427.2,260.23 L428.2,258.50 L429.2,256.72 L430.2,254.90 L431.2,253.07 L432.2,251.23 L433.2,249.39 L434.2,247.56 L435.2,245.75 L436.2,243.98 L437.2,242.24 L438.2,240.52 L439.2,238.79" stroke="#ff0080"/>
<path d="M104.2,468.85 L105.2,468.66 L106.2,468.46 L107.2,468.26 L108.2,468.06 L109.2,467.85 L110.2,467.63 L111.2,467.41 L112.2,467.19 L113.2,466.96 L114.2,466.73 L115.2,466.50 L116.2,466.26 L117.2,466.01 L118.2,465.76 L119.2,465.51 L120.2,465.25 L121.2,464.99 L122.2,464.73 L123.2,464.46 L124.2,464.19 L125.2,463.92 L126.2,463.64 L127.2,463.35 L128.2,463.07 L129.2,462.78 L130.2,462.48 L131.2,462.19 L132.2,461.89 L133.2,461.58 L134.2,461.28 L135.2,460.97 L136.2,460.65 L137.2,460.34 L138.2,460.02 L139.2,459.70 L140.2,459.37 L141.2,459.04 L142.2,458.71 L143.2,458.38 L144.2,458.04 L145.2,457.70 L146.2,457.36 L147.2,457.01 L148.2,456.67 L149.2,456.32 L150.2,455.96 L151.2,455.61 L152.2,455.25 L153.2,454.89 L154.2,454.53 L155.2,454.16 L156.2,453.79 L157.2,453.42 L158.2,453.05 L159.2,452.67 L160.2,452.30 L161.2,451.91 L162.2,451.53 L163.2,451.14 L164.2,450.75 L165.2,450.36 L166.2,449.97 L167.2,449.57 L168.2,449.17 L169.2,448.77 L170.2,448.36 L171.2,447.95 L172.2,447.54 L173.2,447.13 L174.2,446.71 L175.2,446.29 L176.2,445.87 L177.2,445.44 L178.2,445.01 L179.2,444.58 L180.2,444.15 L181.2,443.71 L182.2,443.27 L183.2,442.82 L184.2,442.38 L185.2,441.93 L186.2,441.47 L187.2,441.02 L188.2,440.56 L189.2,440.09 L190.2,439.63 L191.2,439.16 L192.2,438.69 L193.2,438.21 L194.2,437.73 L195.2,437.25 L196.2,436.77 L197.2,436.28 L198.2,435.78 L199.2,435.29 L200.2,434.79 L201.2,434.29 L202.2,433.78 L203.2,433.28 L204.2,432.76 L205.2,432.25 L206.2,431.73 L207.2,431.21 L208.2,430.68 L209.2,430.16 L210.2,429.62 L211.2,429.09 L212.2,428.55 L213.2,428.01 L214.2,427.47 L215.2,426.92 L216.2,426.37 L217.2,425.81 L218.2,425.25 L219.2,424.69 L220.2,424.13 L221.2,423.56 L222.2,422.99 L223.2,422.42 L224.2,421.84 L225.2,421.26 L226.2,420.68 L227.2,420.10 L228.2,419.51 L229.2,418.91 L230.2,418.32 L231.2,417.72 L232.2,417.12 L233.2,416.51 L234.2,415.91 L235.2,415.30 L236.2,414.68 L237.2,414.07 L238.2,413.45 L239.2,412.82 L240.2,412.20 L241.2,411.57 L242.2,410.94 L243.2,410.30 L244.2,409.67 L245.2,409.03 L246.2,408.38 L247.2,407.74 L248.2,407.09 L249.2,406.43 L250.2,405.78 L251.2,405.12 L252.2,404.46 L253.2,403.80 L254.2,403.13 L255.2,402.46 L256.2,401.79 L257.2,401.11 L258.2,400.44 L259.2,399.76 L260.2,399.07 L261.2,398.39 L262.2,397.70 L263.2,397.01 L264.2,396.32 L265.2,395.63 L266.2,394.93 L267.2,394.23 L268.2,393.53 L269.2,392.83 L270.2,392.13 L271.2,391.42 L272.2,390.71 L273.2,390.00 L274.2,389.29 L275.2,388.58 L276.2,387.86 L277.2,387.14 L278.2,386.43 L279.2,385.71 L280.2,384.98 L281.2,384.26 L282.2,383.54 L283.2,382.81 L284.2,382.08 L285.2,381.35 L286.2,380.62 L287.2,379.89 L288.2,379.16 L289.2,378.43 L290.2,377.69 L291.2,376.95 L292.2,376.22 L293.2,375.48 L294.2,374.74 L295.2,374.00 L296.2,373.26 L297.2,372.52 L298.2,371.78 L299.2,371.04 L300.2,370.30 L301.2,369.55 L302.2,368.81 L303.2,368.06 L304.2,367.32 L305.2,366.57 L306.2,365.83 L307.2,365.08 L308.2,364.33 L309.2,363.58 L310.2,362.83 L311.2,362.08 L312.2,361.33 L313.2,360.58 L314.2,359.83 L315.2,359.08 L316.2,358.33 L317.2,357.57 L318.2,356.82 L319.2,356.06 L320.2,355.31 L321.2,354.55 L322.2,353.79 L323.2,353.03 L324.2,352.27 L325.2,351.51 L326.2,350.75 L327.2,349.99 L328.2,349.23 L329.2,348.47 L330.2,347.70 L331.2,346.94 L332.2,346.17 L333.2,345.40 L334.2,344.64 L335.2,343.87 L336.2,343.10 L337.2,342.33 L338.2,341.56 L339.2,340.78 L340.2,340.01 L341.2,339.24 L342.2,338.46 L343.2,337.68 L344.2,336.91 L345.2,336.13 L346.2,335.35 L347.2,334.57 L348.2,333.79 L349.2,333.01 L350.2,332.22 L351.2,331.44 L352.2,330.65 L353.2,329.87 L354.2,329.08 L355.2,328.29 L356.2,327.50 L357.2,326.71 L358.2,325.91 L359.2,325.12 L360.2,324.32 L361.2,323.52 L362.2,322.72 L363.2,321.92 L364.2,321.12 L365.2,320.31 L366.2,319.50 L367.2,318.69 L368.2,317.88 L369.2,317.07 L370.2,316.25 L371.2,315.43 L372.2,314.61 L373.2,313.79 L374.2,312.97 L375.2,312.14 L376.2,311.31 L377.2,310.47 L378.2,309.64 L379.2,308.80 L380.2,307.96 L381.2,307.12 L382.2,306.27 L383.2,305.42 L384.2,304.57 L385.2,303.71 L386.2,302.85 L387.2,301.99 L388.2,301.12 L389.2,300.25 L390.2,299.38 L391.2,298.51 L392.2,297.63 L393.2,296.74 L394.2,295.86 L395.2,294.97 L396.2,294.07 L397.2,293.17 L398.2,292.26 L399.2,291.35 L400.2,290.43 L401.2,289.51 L402.2,288.58 L403.2,287.65 L404.2,286.71 L405.2,285.76 L406.2,284.81 L407.2,283.85 L408.2,282.88 L409.2,281.90 L410.2,280.92 L411.2,279.93 L412.2,278.92 L413.2,277.89 L414.2,276.83 L415.2,275.73 L416.2,274.59 L417.2,273.41 L418.2,272.16 L419.2,270.86 L420.2,269.49 L421.2,268.04 L422.2,266.51 L423.2,264.90 L424.2,263.18 L425.2,261.37 L426.2,259.46 L427.2,257.45 L428.2,255.37 L429.2,253.22 L430.2,251.01 L431.2,248.75 L432.2,246.46 L433.2,244.15 L434.2,241.83 L435.2,239.50 L436.2,237.19 L437.2,234.90 L438.2,232.60 L439.2,230.27" stroke="#008000"/>
</g>
<g stroke="#000" stroke-width="1.4" fill="none">
<path d="M440,204.3 H104.25 V496.3 H440"/>
<path d="M153.90,204.3 v3.6 M153.90,496.3 v-3.6" stroke-width="1.5"/>
<path d="M203.55,204.3 v6.8 M203.55,496.3 v-6.8" stroke-width="1.5"/>
<path d="M253.20,204.3 v3.6 M253.20,496.3 v-3.6" stroke-width="1.5"/>
<path d="M302.85,204.3 v6.8 M302.85,496.3 v-6.8" stroke-width="1.5"/>
<path d="M352.50,204.3 v3.6 M352.50,496.3 v-3.6" stroke-width="1.5"/>
<path d="M402.15,204.3 v6.8 M402.15,496.3 v-6.8" stroke-width="1.5"/>
<path d="M451.80,204.3 v3.6 M451.80,496.3 v-3.6" stroke-width="1.5"/>
<path d="M104.25,236.74 h6.6" stroke-width="1.5"/>
<path d="M104.25,301.62 h6.6" stroke-width="1.5"/>
<path d="M104.25,366.50 h6.6" stroke-width="1.5"/>
<path d="M104.25,431.38 h6.6" stroke-width="1.5"/>
<path d="M104.25,269.18 h3.6" stroke-width="1.5"/>
<path d="M104.25,334.06 h3.6" stroke-width="1.5"/>
<path d="M104.25,398.94 h3.6" stroke-width="1.5"/>
<path d="M104.25,463.82 h3.6" stroke-width="1.5"/>
</g>
<g fill="#000" stroke="#000" stroke-width="0.35">
<text transform="translate(51.95,243.51) scale(1.0000,0.9757)" font-family="Liberation Sans, sans-serif" font-size="23.76" >0.08</text>
<text transform="translate(51.96,308.39) scale(1.0000,0.9835)" font-family="Liberation Sans, sans-serif" font-size="23.57" >0.04</text>
<text transform="translate(51.95,373.27) scale(1.0000,0.9783)" font-family="Liberation Sans, sans-serif" font-size="23.69" >0.00</text>
<text transform="translate(43.94,438.15) scale(1.0000,0.9801)" font-family="Liberation Sans, sans-serif" font-size="23.65" >-0.04</text>
<text transform="translate(43.93,503.03) scale(1.0000,0.9734)" font-family="Liberation Sans, sans-serif" font-size="23.81" >-0.08</text>
<text transform="translate(83.32,520.96) scale(1.0000,0.9835)" font-family="Liberation Sans, sans-serif" font-size="24.00" >-0.4</text>
<text transform="translate(182.92,520.96) scale(1.0000,0.9835)" font-family="Liberation Sans, sans-serif" font-size="24.00" >-0.3</text>
<text transform="translate(281.92,520.96) scale(1.0000,0.9835)" font-family="Liberation Sans, sans-serif" font-size="24.00" >-0.2</text>
<text transform="translate(381.22,520.96) scale(1.0000,0.9835)" font-family="Liberation Sans, sans-serif" font-size="24.00" >-0.1</text>
</g>
<rect x="127.7" y="230.4" width="110.7" height="87.8" fill="#fff" stroke="#000" stroke-opacity="0.75" stroke-width="0.9"/>
<g fill="#000" stroke-width="1.9">
<path d="M128.8,239.9 H161.7" stroke="#000000"/><path d="M184.2,239.9 H217.8" stroke="#ff0000"/>
<text transform="translate(164.9,244.85) scale(1,0.9329)" font-family="Liberation Sans, sans-serif" font-size="15.00">0</text>
<text transform="translate(221.0,244.85) scale(1,0.9329)" font-family="Liberation Sans, sans-serif" font-size="15.00">5</text>
<path d="M128.8,257.3 H161.7" stroke="#0000ff"/><path d="M184.2,257.3 H217.8" stroke="#008080"/>
<text transform="translate(164.9,262.25) scale(1,0.9329)" font-family="Liberation Sans, sans-serif" font-size="15.00">10</text>
<text transform="translate(221.0,262.25) scale(1,0.9329)" font-family="Liberation Sans, sans-serif" font-size="15.00">15</text>
<path d="M128.8,274.8 H161.7" stroke="#ff00ff"/><path d="M184.2,274.8 H217.8" stroke="#808000"/>
<text transform="translate(164.9,279.75) scale(1,0.9329)" font-family="Liberation Sans, sans-serif" font-size="15.00">20</text>
<text transform="translate(221.0,279.75) scale(1,0.9329)" font-family="Liberation Sans, sans-serif" font-size="15.00">25</text>
<path d="M128.8,292.5 H161.7" stroke="#000080"/><path d="M184.2,292.5 H217.8" stroke="#800000"/>
<text transform="translate(164.9,297.45) scale(1,0.9329)" font-family="Liberation Sans, sans-serif" font-size="15.00">30</text>
<text transform="translate(221.0,297.45) scale(1,0.9329)" font-family="Liberation Sans, sans-serif" font-size="15.00">35</text>
<path d="M128.8,310.3 H161.7" stroke="#ff0080"/><path d="M184.2,310.3 H217.8" stroke="#008000"/>
<text transform="translate(164.9,315.25) scale(1,0.9329)" font-family="Liberation Sans, sans-serif" font-size="15.00">40</text>
<text transform="translate(221.0,315.25) scale(1,0.9329)" font-family="Liberation Sans, sans-serif" font-size="15.00">45</text>
</g>
<g fill="#000" stroke="#000" stroke-width="0.3">
<text transform="translate(267.19,547.07) scale(1.0000,0.9042)" font-family="Liberation Serif, serif" font-size="25.34" stroke="#000" stroke-width="0.5">ω</text>
<text transform="translate(288.71,546.81) scale(1.0000,0.9946)" font-family="Liberation Sans, sans-serif" font-size="27.06" >(eV)</text>
</g>
<g transform="rotate(-90)" fill="#000" stroke="#000" stroke-width="0.3">
<text transform="translate(-428.11,41.10) scale(1.0000,0.9823)" font-family="Liberation Serif, serif" font-size="25.18" >Σ</text>
<text transform="translate(-406.25,41.28) scale(1.0000,1.1130)" font-family="Liberation Sans, sans-serif" font-size="24.76" >(</text>
<text transform="translate(-397.73,41.35) scale(1.0000,0.9463)" font-family="Liberation Serif, serif" font-size="25.90" >θ</text>
<text transform="translate(-385.62,40.95) scale(1.0000,0.9093)" font-family="Liberation Serif, serif" font-size="27.33" >,</text>
<text transform="translate(-379.72,41.55) scale(1.0000,0.9961)" font-family="Liberation Serif, serif" font-size="25.52" stroke="#000" stroke-width="0.5">ω</text>
<text transform="translate(-361.59,41.28) scale(1.0000,1.0961)" font-family="Liberation Sans, sans-serif" font-size="25.14" >)</text>
<text transform="translate(-347.17,41.26) scale(1.0000,1.0331)" font-family="Liberation Sans, sans-serif" font-size="26.78" >(eV)</text>
</g>
<path d="M32.4,408.75 H41.1 V410.15 H34.8 L36.9,413.6 L35.8,414.3 L32.4,410.5 Z" fill="#000"/>
</svg>
</body></html>
